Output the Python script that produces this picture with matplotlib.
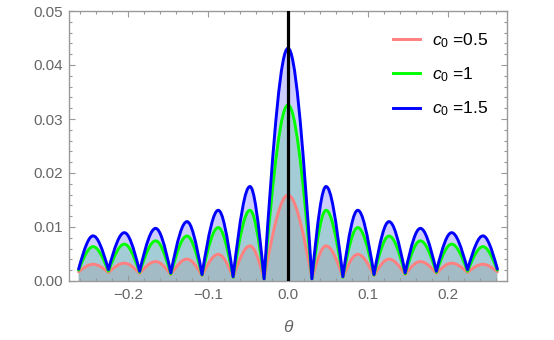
import matplotlib
matplotlib.use("Agg")
import matplotlib.pyplot as plt
from matplotlib.path import Path
from matplotlib.patches import PathPatch
from matplotlib.lines import Line2D

plt.rcParams['font.family'] = ['Liberation Sans', 'DejaVu Sans']
plt.rcParams['mathtext.fontset'] = 'custom'
plt.rcParams['mathtext.rm'] = 'Liberation Sans'
plt.rcParams['mathtext.it'] = 'Liberation Sans:italic'

# ---- data (right half; the curves are symmetric in theta) ----
series_labels = [r'$c_0$ =0.5', r'$c_0$ =1', r'$c_0$ =1.5']
series_colors = ['#ff8080', '#00ff00', '#0000ff']

peak_theta = [0.0, 0.0476, 0.0872, 0.1263, 0.1655, 0.2046, 0.2437]
trough_theta = [0.0299, 0.0686, 0.1075, 0.1465, 0.1855, 0.2245]
end_theta = 0.2618

peaks_c05 = [0.0159, 0.0065, 0.00494, 0.00405, 0.0036, 0.0033, 0.0031]
troughs_c05 = [0.0004, 0.0007, 0.0010, 0.0012, 0.0014, 0.0016]
end_c05 = 0.0017

peaks_c10 = [0.0326, 0.0131, 0.0099, 0.00833, 0.00744, 0.00683, 0.00636]
troughs_c10 = [0.0004, 0.0007, 0.0011, 0.0013, 0.0016, 0.0018]
end_c10 = 0.0020

peaks_c15 = [0.0431, 0.0175, 0.0131, 0.0110, 0.00975, 0.00895, 0.00836]
troughs_c15 = [0.0004, 0.0008, 0.0012, 0.0015, 0.0018, 0.0021]
end_c15 = 0.0022

xtick_values = [-0.2, -0.1, 0.0, 0.1, 0.2]
xtick_labels = ['\u22120.2', '\u22120.1', '0.0', '0.1', '0.2']
ytick_values = [0.0, 0.01, 0.02, 0.03, 0.04, 0.05]
ytick_labels = ['0.00', '0.01', '0.02', '0.03', '0.04', '0.05']


def build_nodes(peaks, troughs, end):
    right = [(peak_theta[0], peaks[0], 'p')]
    for i in range(len(troughs)):
        right.append((trough_theta[i], troughs[i], 't'))
        right.append((peak_theta[i + 1], peaks[i + 1], 'p'))
    right.append((end_theta, end, 't'))
    left = [(-x, y, k) for (x, y, k) in reversed(right[1:])]
    return left + right


def build_path(nodes, closed=False):
    verts = [(nodes[0][0], nodes[0][1])]
    codes = [Path.MOVETO]
    for a, b in zip(nodes[:-1], nodes[1:]):
        w = b[0] - a[0]
        if a[2] == 't':
            p1 = (a[0] + 0.4244 * w, a[1] + 0.6667 * (b[1] - a[1]))
            p2 = (a[0] + 0.7124 * w, b[1])
        else:
            p1 = (a[0] + 0.2876 * w, a[1])
            p2 = (a[0] + 0.5756 * w, b[1] + 0.6667 * (a[1] - b[1]))
        verts += [p1, p2, (b[0], b[1])]
        codes += [Path.CURVE4] * 3
    if closed:
        verts += [(nodes[-1][0], 0.0), (nodes[0][0], 0.0), (nodes[0][0], 0.0)]
        codes += [Path.LINETO, Path.LINETO, Path.CLOSEPOLY]
    return Path(verts, codes)


all_nodes = [build_nodes(peaks_c05, troughs_c05, end_c05),
             build_nodes(peaks_c10, troughs_c10, end_c10),
             build_nodes(peaks_c15, troughs_c15, end_c15)]

fig = plt.figure(figsize=(5.54, 3.4), dpi=100)
ax = fig.add_axes([69 / 554, 59 / 340, 438 / 554, 270 / 340])

for nodes, col in zip(all_nodes, series_colors):
    ax.add_patch(PathPatch(build_path(nodes, closed=True), facecolor=col,
                           alpha=0.2, edgecolor='none', zorder=1))
handles = []
for nodes, col, lab in zip(all_nodes, series_colors, series_labels):
    ax.add_patch(PathPatch(build_path(nodes), facecolor='none', edgecolor=col,
                           lw=2.1, zorder=2, capstyle='round', joinstyle='round'))
    handles.append(Line2D([], [], color=col, lw=2.1, label=lab))

ax.axvline(0.0, color='black', lw=2.3, zorder=3)

ax.set_xlim(-0.2738, 0.2738)
ax.set_ylim(0.0, 0.05)

gray = '#999999'
for sp in ax.spines.values():
    sp.set_color(gray)
    sp.set_linewidth(1.0)

ax.set_xticks(xtick_values)
ax.set_xticklabels(xtick_labels)
ax.set_yticks(ytick_values)
ax.set_yticklabels(ytick_labels)
ax.set_xticks([v / 100 for v in range(-26, 27, 2)], minor=True)
ax.set_yticks([v / 1000 for v in range(0, 51, 2)], minor=True)
ax.tick_params(which='both', direction='in', top=True, right=True, color=gray,
               width=0.8, labelcolor='#666666', labelsize=11)
ax.tick_params(which='major', length=4)
ax.tick_params(which='minor', length=2.2)
ax.tick_params(axis='x', pad=5)
ax.tick_params(axis='y', pad=4)

ax.set_xlabel('\u03b8', fontstyle='italic', color='#666666', fontsize=12.5, labelpad=13)

ax.legend(handles=handles, loc='upper left', bbox_to_anchor=(0.739, 0.926),
          frameon=False, fontsize=12.5, handlelength=1.6, handletextpad=0.69,
          labelspacing=0.9, borderpad=0, borderaxespad=0)

fig.savefig('out.png', dpi=100)
